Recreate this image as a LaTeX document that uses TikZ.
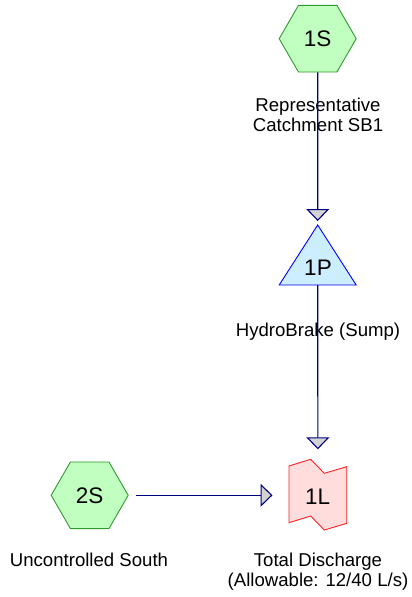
\documentclass[tikz,border=0pt]{standalone}
\usepackage{fontspec}
\setmainfont{Liberation Sans}
\usetikzlibrary{shapes.geometric,arrows.meta}

\definecolor{hexfill}{HTML}{C0FFC0}
\definecolor{hexline}{HTML}{2E9A2E}
\definecolor{pondfill}{HTML}{CCEEFF}
\definecolor{pondline}{HTML}{0000FF}
\definecolor{linkfill}{HTML}{FFDDDD}
\definecolor{linkline}{HTML}{FF2020}
\definecolor{flowline}{HTML}{000080}
\definecolor{tipfill}{HTML}{D3D3D3}

\begin{document}
\begin{tikzpicture}[x=1pt,y=-1pt,
  subcat/.style={regular polygon, regular polygon sides=6, minimum size=77pt,
    inner sep=0pt, draw=hexline, fill=hexfill, line width=0.9pt,
    font=\fontsize{22.5}{26}\selectfont},
  frame/.style={inner sep=0pt, outer sep=0pt},
  tag/.style={inner sep=0pt, font=\fontsize{22.5}{26}\selectfont},
  caption/.style={align=center, inner sep=0pt, anchor=north,
    font=\fontsize{18.6}{20}\selectfont},
  flow/.style={draw=flowline, line width=1.1pt,
    -{Triangle[width=23pt,length=12pt,fill=tipfill]}},
  ]
\useasboundingbox (0,0) rectangle (412,597);

% subcatchments
\node[subcat] (s1) at (317.7,38.7) {1S};
\node[subcat] (s2) at (89.7,495.3) {2S};

% pond: triangle inside its frame
\node[frame, minimum width=77pt, minimum height=60pt] (p1) at (317.7,255) {};
\filldraw[fill=pondfill, draw=pondline, line width=0.9pt]
  (p1.south west) -- (p1.north) -- (p1.south east) -- cycle;
\node[tag] (p1t) at (318,268) {1P};

% link: notched outline inside its frame
\node[frame, minimum width=57.7pt, minimum height=70.7pt] (l1) at (317.85,494.65) {};
\filldraw[shift={(l1.center)}, fill=linkfill, draw=linkline, line width=0.9pt,
  line join=miter]
  (-28.85,-28.7) -- (-7.15,-35.35) -- (6.45,-21.35) -- (28.85,-28)
  -- (28.85,28.65) -- (6.45,35.35) -- (-7.15,21.35) -- (-28.85,28)
  -- cycle;
\node[tag] (l1t) at (317.7,497) {1L};

% captions
\node[caption] (c1) at (318,98.3) {Representative\\Catchment SB1};
\node[caption] (c2) at (318,323.3) {HydroBrake (Sump)};
\node[caption] (c3) at (89,553.3) {Uncontrolled South};
\node[caption] (c4) at (318,553.3) {Total Discharge\\(Allowable: 12/40 L/s)};

% flows
\draw[flow, shorten >=4pt] (s1.south) -- (p1.north);
\draw[flow, shorten >=10pt] (p1.south) -- (l1.north);
\draw[flow, shorten <=7pt, shorten >=16.5pt] (s2.east) -- (s2.east -| l1.west);
\end{tikzpicture}
\end{document}
